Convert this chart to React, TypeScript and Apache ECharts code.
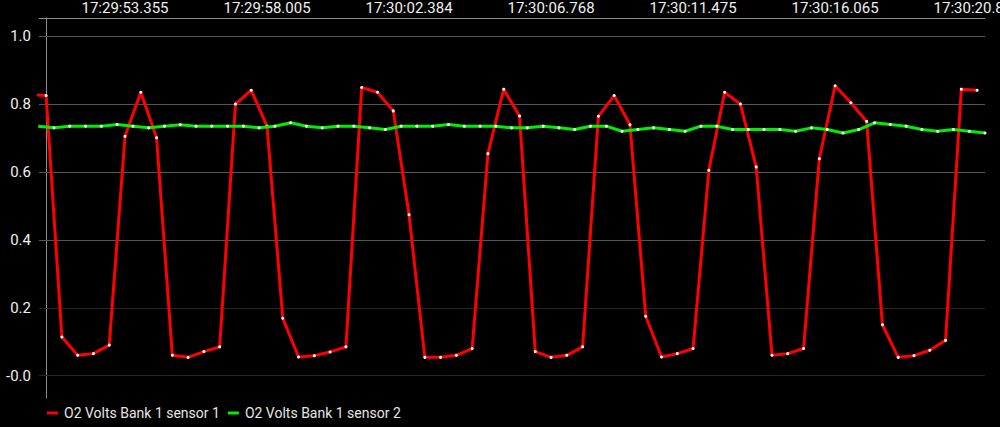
import React, { useEffect, useRef } from "react";
import * as echarts from "echarts";

// Sample index: sensor 1 on even indices, sensor 2 on odd indices
const sensor1Index: number[] = [
  -2, 0, 2, 4, 6, 8, 10, 12, 14, 16, 18, 20, 22, 24, 26, 28, 30, 32, 34, 36, 38,
  40, 42, 44, 46, 48, 50, 52, 54, 56, 58, 60, 62, 64, 66, 68, 70, 72, 74, 76, 78,
  80, 82, 84, 86, 88, 90, 92, 94, 96, 98, 100, 102, 104, 106, 108, 110, 112, 114, 116, 118,
];
const sensor1Values: number[] = [
  0.828, 0.825, 0.114, 0.06, 0.065, 0.09, 0.705, 0.835, 0.701, 0.06, 0.054,
  0.071, 0.085, 0.8, 0.841, 0.735, 0.169, 0.055, 0.059, 0.07, 0.085,
  0.849, 0.835, 0.78, 0.474, 0.054, 0.054, 0.06, 0.08, 0.654, 0.844,
  0.765, 0.071, 0.054, 0.06, 0.085, 0.764, 0.825, 0.739, 0.175, 0.055,
  0.065, 0.08, 0.605, 0.835, 0.8, 0.615, 0.06, 0.065, 0.08, 0.639,
  0.854, 0.804, 0.749, 0.15, 0.054, 0.059, 0.075, 0.104, 0.844, 0.841,
];
const sensor2Index: number[] = [
  -1, 1, 3, 5, 7, 9, 11, 13, 15, 17, 19, 21, 23, 25, 27, 29, 31, 33, 35, 37, 39,
  41, 43, 45, 47, 49, 51, 53, 55, 57, 59, 61, 63, 65, 67, 69, 71, 73, 75, 77, 79,
  81, 83, 85, 87, 89, 91, 93, 95, 97, 99, 101, 103, 105, 107, 109, 111, 113, 115, 117, 119,
];
const sensor2Values: number[] = [
  0.735, 0.73, 0.735, 0.735, 0.735, 0.74, 0.735, 0.73, 0.735, 0.739, 0.735,
  0.735, 0.735, 0.735, 0.73, 0.735, 0.745, 0.735, 0.73, 0.735, 0.735,
  0.73, 0.725, 0.735, 0.735, 0.735, 0.74, 0.735, 0.735, 0.735, 0.73,
  0.73, 0.735, 0.73, 0.725, 0.735, 0.735, 0.72, 0.725, 0.73, 0.725,
  0.72, 0.735, 0.735, 0.725, 0.725, 0.725, 0.725, 0.72, 0.73, 0.725,
  0.715, 0.725, 0.745, 0.74, 0.735, 0.725, 0.72, 0.725, 0.72, 0.715,
];

const seriesNames: string[] = ["O2 Volts Bank 1 sensor 1", "O2 Volts Bank 1 sensor 2"];
const seriesColors: string[] = ["#ff0000", "#00ee00"];
const tickIndex: number[] = [10, 28, 46, 64, 82, 100, 118];
const tickTimes: string[] = [
  "17:29:53.355", "17:29:58.005", "17:30:02.384", "17:30:06.768",
  "17:30:11.475", "17:30:16.065", "17:30:20.812",
];
const yTicks: number[] = [0, 0.2, 0.4, 0.6, 0.8, 1.0];
const yTickLabels: string[] = ["-0.0", "0.2", "0.4", "0.6", "0.8", "1.0"];

export default function App() {
  const ref = useRef<HTMLDivElement>(null);
  useEffect(() => {
    document.body.style.margin = "0";
    document.body.style.background = "#000";
    const chart = echarts.init(ref.current!, null, { renderer: "svg" });
    const font = "Roboto";
    const gridColors = ["#262626", "#262626", "#555555", "#555555", "#555555", "#555555"];
    chart.setOption({
      animation: false,
      backgroundColor: "#000000",
      grid: { left: 39, right: 15, top: 18, bottom: 29, containLabel: false, outerBoundsMode: "none" },
      legend: {
        left: 42,
        bottom: 2,
        icon: "rect",
        itemWidth: 11,
        itemHeight: 3,
        itemGap: 8,
        data: seriesNames.map((n, i) => ({ name: n, itemStyle: { color: seriesColors[i] } })),
        textStyle: { color: "#e6e6e6", fontFamily: font, fontSize: 14, padding: [0, 0, 0, 1] },
      },
      xAxis: {
        type: "value",
        position: "top",
        min: -0.9,
        max: 119,
        axisLine: { show: true, onZero: false, lineStyle: { color: "#8c8c8c", width: 1 } },
        axisTick: { show: false },
        splitLine: { show: false },
        axisLabel: {
          customValues: tickIndex,
          color: "#f0f0f0",
          fontFamily: font,
          fontSize: 15,
          margin: 3,
          showMinLabel: true,
          showMaxLabel: true,
          hideOverlap: false,
          formatter: (v: number) => {
            const i = tickIndex.indexOf(Math.round(v));
            return i >= 0 ? tickTimes[i] : "";
          },
        },
      },
      yAxis: {
        type: "value",
        min: -0.0657,
        max: 1.0536,
        axisLine: { show: true, lineStyle: { color: "#8c8c8c", width: 1 } },
        axisTick: { show: false },
        splitLine: { show: false },
        axisLabel: {
          customValues: yTicks,
          color: "#f0f0f0",
          fontFamily: font,
          fontSize: 15,
          margin: 8,
          formatter: (v: number) => {
            let idx = -1;
            yTicks.forEach((t, i) => { if (Math.abs(t - v) < 1e-6) idx = i; });
            return idx >= 0 ? yTickLabels[idx] : "";
          },
        },
      },
      series: [
        {
          name: seriesNames[0],
          type: "line",
          data: sensor1Index.map((x, i) => [x, sensor1Values[i]]),
          lineStyle: { color: seriesColors[0], width: 3 },
          itemStyle: { color: "#ffffff", borderWidth: 0 },
          symbol: "circle",
          symbolSize: 3,
          showSymbol: true,
          showAllSymbol: true,
          clip: true,
          z: 3,
          markLine: {
            silent: true,
            symbol: ["none", "none"],
            label: { show: false },
            animation: false,
            z: 1,
            data: yTicks.map((t, i) => ({ yAxis: t, lineStyle: { color: gridColors[i], width: 1, type: "solid" } })),
          },
        },
        {
          name: seriesNames[1],
          type: "line",
          data: sensor2Index.map((x, i) => [x, sensor2Values[i]]),
          lineStyle: { color: seriesColors[1], width: 3 },
          itemStyle: { color: "#ffffff", borderWidth: 0 },
          symbol: "circle",
          symbolSize: 3,
          showSymbol: true,
          showAllSymbol: true,
          clip: true,
          z: 4,
        },
      ],
    });
    return () => chart.dispose();
  }, []);
  return <div ref={ref} style={{ position: "fixed", left: 0, top: 0, width: 1000, height: 427 }} />;
}
